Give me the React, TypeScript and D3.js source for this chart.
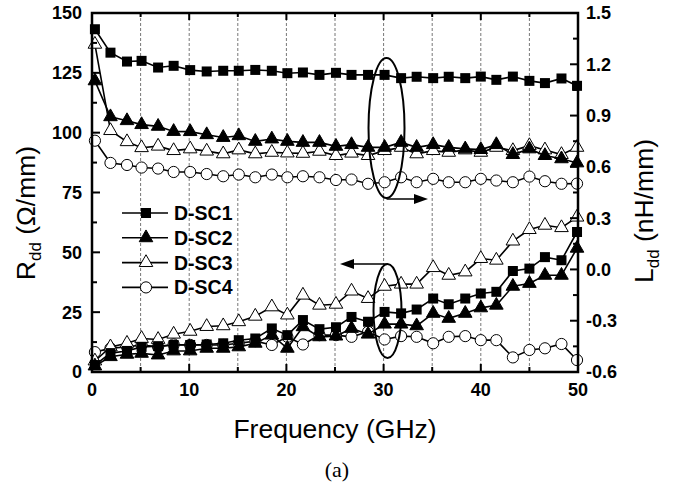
import React from 'react';
import * as d3 from 'd3';

// frequency points (GHz)
const freq = [0.3, 1.9, 3.6, 5.1, 6.8, 8.4, 10.1, 11.8, 13.5, 15.1, 16.8, 18.5, 20.1, 21.7, 23.4, 25.1,
    26.7, 28.4, 30.1, 31.8, 33.4, 35.1, 36.7, 38.4, 40.0, 41.6, 43.3, 45.0, 46.6, 48.3, 49.9];

// L_dd (nH/mm), right axis
const lSC1 = [1.405, 1.268, 1.216, 1.22, 1.181, 1.191, 1.166, 1.158, 1.162, 1.162, 1.167, 1.162, 1.148, 1.152, 1.138, 1.15,
    1.138, 1.138, 1.138, 1.119, 1.127, 1.119, 1.127, 1.119, 1.128, 1.109, 1.128, 1.103, 1.09, 1.117, 1.074];
const lSC2 = [1.103, 0.893, 0.87, 0.847, 0.837, 0.807, 0.806, 0.788, 0.772, 0.782, 0.749, 0.763, 0.749, 0.743, 0.743, 0.72,
    0.73, 0.714, 0.714, 0.743, 0.714, 0.73, 0.714, 0.705, 0.701, 0.73, 0.672, 0.705, 0.666, 0.647, 0.623];
const lSC3 = [1.317, 0.812, 0.747, 0.712, 0.721, 0.695, 0.705, 0.692, 0.676, 0.699, 0.676, 0.685, 0.681, 0.679, 0.691, 0.666,
    0.68, 0.666, 0.695, 0.714, 0.676, 0.695, 0.685, 0.699, 0.685, 0.714, 0.695, 0.724, 0.699, 0.672, 0.714];
const lSC4 = [0.753, 0.623, 0.611, 0.596, 0.59, 0.57, 0.57, 0.558, 0.545, 0.555, 0.539, 0.555, 0.539, 0.545, 0.539, 0.523,
    0.526, 0.501, 0.51, 0.539, 0.51, 0.53, 0.51, 0.51, 0.53, 0.52, 0.51, 0.543, 0.516, 0.501, 0.502];

// R_dd (ohm/mm), left axis
const rSC1 = [2.9, 7.9, 8.8, 10.5, 10.8, 11.3, 11.3, 11.5, 12, 13.3, 14, 18.2, 15.4, 21.7, 17.9, 18.7,
    23, 21, 25.1, 24.5, 26.1, 30.7, 28.3, 30.7, 32.8, 33.5, 42.2, 43.2, 48, 46.7, 58.5];
const rSC2 = [2.5, 6.4, 7.4, 7.8, 7.1, 8.8, 8.8, 9.9, 9.9, 10.5, 12, 15.4, 9.9, 18.9, 14.7, 15,
    18.2, 15.8, 20, 20, 19.3, 24.5, 22.4, 24.5, 26.8, 27.9, 35.8, 37, 40.4, 40.4, 51.7];
const rSC3 = [4.6, 10.5, 12, 14, 13.6, 15.8, 17, 19, 19.3, 21, 23.3, 27.2, 23.8, 32.1, 27.9, 28.3,
    33.8, 30.7, 35.8, 36.7, 36.7, 43.6, 40.4, 41.8, 47.4, 46.7, 54.7, 59.5, 61.3, 60.3, 64.7];
const rSC4 = [8.3, 9.9, 10.5, 11.3, 10.5, 11.5, 11.3, 11.3, 11.3, 12, 12.9, 11.3, 14.7, 11.5, 15.4, 15.4,
    14.7, 16.8, 13.6, 15, 14.7, 12, 14.7, 15, 13.3, 13.3, 6.1, 9.2, 9.9, 11.7, 5];

const seriesNames = ['D-SC1', 'D-SC2', 'D-SC3', 'D-SC4'];
const leftTicks = [0, 25, 50, 75, 100, 125, 150];
const rightTicks = [-0.6, -0.3, 0.0, 0.3, 0.6, 0.9, 1.2, 1.5];
const xTicks = [0, 10, 20, 30, 40, 50];

const W = 690, H = 487;
const m = { left: 92, right: 578, top: 13, bottom: 372 };
const font = 'Arial, "Liberation Sans", Helvetica, sans-serif';

function Marker({ kind, x, y }) {
    if (kind === 0) return <rect x={x - 5} y={y - 5} width={10} height={10} fill="#000" />;
    if (kind === 3) return <circle cx={x} cy={y} r={5.6} fill="#fff" stroke="#000" strokeWidth={1} />;
    const tri = d3.symbol(d3.symbolTriangle, 80)();
    return <path d={tri} transform={`translate(${x},${y})`} fill={kind === 1 ? '#000' : '#fff'} stroke="#000" strokeWidth={1} />;
}

export default function App() {
    const x = d3.scaleLinear().domain([0, 50]).range([m.left, m.right]);
    const yL = d3.scaleLinear().domain([0, 150]).range([m.bottom, m.top]);
    const yR = d3.scaleLinear().domain([-0.6, 1.5]).range([m.bottom, m.top]);

    const lSeries = [lSC1, lSC2, lSC3, lSC4];
    const rSeries = [rSC1, rSC2, rSC3, rSC4];

    const lineL = d3.line<number>().x((_, i) => x(freq[i])).y(d => yR(d));
    const lineR = d3.line<number>().x((_, i) => x(freq[i])).y(d => yL(d));

    const grid = d3.range(5, 50, 5);
    const leftMinor = d3.range(12.5, 150, 25);
    const rightMinor = d3.range(-0.45, 1.5, 0.3);
    const xMinor = d3.range(5, 50, 10);

    const drawSeries = (data, line, yScale, kind) => (
        <g key={kind}>
            <path d={line(data)} fill="none" stroke="#000" strokeWidth={1.6} />
            {data.map((d, i) => <Marker key={i} kind={kind} x={x(freq[i])} y={yScale(d)} />)}
        </g>
    );

    // ellipses marking which axis each group belongs to
    const ex = x(30.3);

    return (
        <svg width={W} height={H} style={{ position: 'absolute', left: 0, top: 0, background: '#fff' }}>
            {/* dashed grid */}
            {grid.map(g => (
                <line key={g} x1={x(g)} x2={x(g)} y1={m.top} y2={m.bottom} stroke="#777" strokeWidth={1} strokeDasharray="3,2" />
            ))}

            {rSeries.map((s, i) => drawSeries(s, lineR, yL, i)).reverse()}
            {lSeries.map((s, i) => drawSeries(s, lineL, yR, i)).reverse()}

            {/* ellipse + arrow to right axis */}
            <ellipse cx={ex} cy={128} rx={18} ry={70} fill="none" stroke="#000" strokeWidth={2} />
            <line x1={ex} y1={199} x2={418} y2={199} stroke="#000" strokeWidth={1.5} />
            <path d="M428,199 L414,194 L414,204 Z" fill="#000" />
            {/* ellipse + arrow to left axis */}
            <ellipse cx={ex + 1} cy={311} rx={14} ry={47} fill="none" stroke="#000" strokeWidth={2} />
            <line x1={ex + 1} y1={264} x2={350} y2={264} stroke="#000" strokeWidth={1.5} />
            <path d="M340,264 L354,259 L354,269 Z" fill="#000" />

            {/* frame */}
            <rect x={m.left} y={m.top} width={m.right - m.left} height={m.bottom - m.top} fill="none" stroke="#000" strokeWidth={2.5} />

            {/* left axis */}
            {leftTicks.map(t => (
                <g key={t}>
                    <line x1={m.left} x2={m.left + 8} y1={yL(t)} y2={yL(t)} stroke="#000" strokeWidth={2} />
                    <text x={m.left - 10} y={yL(t)} dy="0.36em" textAnchor="end" fontFamily={font} fontWeight="bold" fontSize={18}>{t}</text>
                </g>
            ))}
            {leftMinor.map(t => <line key={t} x1={m.left} x2={m.left + 5} y1={yL(t)} y2={yL(t)} stroke="#000" strokeWidth={2} />)}

            {/* right axis */}
            {rightTicks.map(t => (
                <g key={t}>
                    <line x1={m.right} x2={m.right - 8} y1={yR(t)} y2={yR(t)} stroke="#000" strokeWidth={2} />
                    <text x={m.right + 8} y={yR(t)} dy="0.36em" fontFamily={font} fontWeight="bold" fontSize={18}>{t.toFixed(1)}</text>
                </g>
            ))}
            {rightMinor.map(t => <line key={t} x1={m.right} x2={m.right - 5} y1={yR(t)} y2={yR(t)} stroke="#000" strokeWidth={2} />)}

            {/* bottom / top axis */}
            {xTicks.map(t => (
                <g key={t}>
                    <line x1={x(t)} x2={x(t)} y1={m.bottom} y2={m.bottom - 8} stroke="#000" strokeWidth={2} />
                    <line x1={x(t)} x2={x(t)} y1={m.top} y2={m.top + 7} stroke="#000" strokeWidth={2} />
                    <text x={x(t)} y={396} textAnchor="middle" fontFamily={font} fontWeight="bold" fontSize={18}>{t}</text>
                </g>
            ))}
            {xMinor.map(t => (
                <g key={t}>
                    <line x1={x(t)} x2={x(t)} y1={m.bottom} y2={m.bottom - 5} stroke="#000" strokeWidth={2} />
                    <line x1={x(t)} x2={x(t)} y1={m.top} y2={m.top + 4} stroke="#000" strokeWidth={2} />
                </g>
            ))}

            {/* legend */}
            {seriesNames.map((n, i) => {
                const ly = 213 + i * 24.8;
                return (
                    <g key={n}>
                        <line x1={122} x2={168} y1={ly} y2={ly} stroke="#000" strokeWidth={1.6} />
                        <Marker kind={i} x={146} y={ly} />
                        <text x={174} y={ly + 7} fontFamily={font} fontWeight="bold" fontSize={19.5}>{n}</text>
                    </g>
                );
            })}

            {/* axis titles */}
            <text x={335} y={438} textAnchor="middle" fontFamily={font} fontSize={26.5}>Frequency (GHz)</text>
            <text transform="translate(35,213) rotate(-90)" textAnchor="middle" fontFamily={font} fontSize={26.5}>
                R<tspan fontSize={17} dy={6}>dd</tspan><tspan dy={-6}> (Ω/mm)</tspan>
            </text>
            <text transform="translate(653,211) rotate(-90)" textAnchor="middle" fontFamily={font} fontSize={26.5}>
                L<tspan fontSize={17} dy={6}>dd</tspan><tspan dy={-6}> (nH/mm)</tspan>
            </text>
            <text x={337} y={477} textAnchor="middle" fontFamily='"Liberation Serif", "Times New Roman", serif' fontSize={22}>(a)</text>
        </svg>
    );
}
